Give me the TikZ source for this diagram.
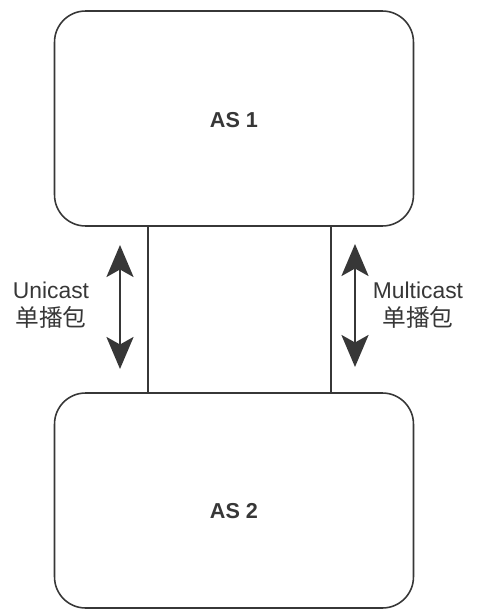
\documentclass[tikz,border=0pt]{standalone}
\usepackage{fontspec}
\setmainfont{Liberation Sans}
\newfontfamily\cjk{Noto Sans CJK SC}
\usetikzlibrary{arrows.meta,positioning}
\begin{document}
\begin{tikzpicture}[x=0.02cm,y=-0.02cm,font=\fontsize{13}{16}\selectfont,
domaine/.style={draw=trait,line width=0.9pt,rounded corners=0.62cm,minimum width=7.18cm,minimum height=4.3cm},
nom/.style={font=\fontsize{12.3}{15}\selectfont\bfseries,text=trait},
lien/.style={draw=trait,line width=0.8pt},
fleche/.style={{Stealth[length=0.64cm,width=0.54cm,inset=0.15cm]}-{Stealth[length=0.64cm,width=0.54cm,inset=0.15cm]},line width=1.7pt,draw=trait},
legende/.style={align=center,text=trait}]
\definecolor{trait}{RGB}{55,55,55}
\useasboundingbox (0,0) rectangle (499,616);
\node[domaine] (as1) at (234,118.5) {};
\node[domaine] (as2) at (234,500.5) {};
\node[nom] (nom1) at ([yshift=-0.04cm]as1.center) {AS 1};
\node[nom] (nom2) at ([yshift=-0.21cm]as2.center) {AS 2};
\draw[lien] ([xshift=-1.72cm]as1.south) -- ([xshift=-1.72cm]as2.north);
\draw[lien] ([xshift=1.94cm]as1.south) -- ([xshift=1.94cm]as2.north);
\coordinate (uhaut) at (120,245);
\coordinate (ubas) at (120,369);
\coordinate (mhaut) at (355,244);
\coordinate (mbas) at (355,367);
\draw[fleche] (uhaut) -- (ubas);
\draw[fleche] (mhaut) -- (mbas);
\node[legende] (uni) at (51,305) {Unicast\\{\cjk\fontsize{13.5}{16}\selectfont 单播包}};
\node[legende] (multi) at (418,305) {Multicast\\{\cjk\fontsize{13.5}{16}\selectfont 单播包}};
\end{tikzpicture}
\end{document}
